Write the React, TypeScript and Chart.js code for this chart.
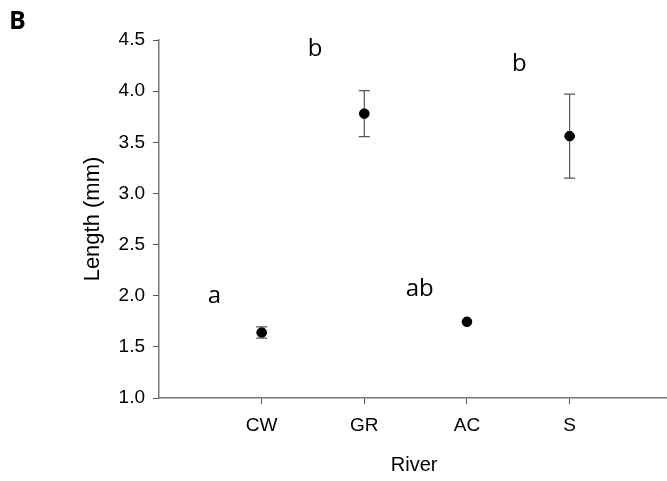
import React, { useEffect, useRef } from "react";
import { Chart, registerables } from "chart.js";

Chart.register(...registerables);

const categories = ["CW", "GR", "AC", "S"];
const means = [1.64, 3.78, 1.745, 3.56];
const errors = [0.055, 0.225, 0.0, 0.41];
const groupLetters = ["a", "b", "ab", "b"];
const letterX = [0.54, 1.52, 2.54, 3.51];
const letterY = [2.0, 4.41, 2.06, 4.26];
const yTicks = [1.0, 1.5, 2.0, 2.5, 3.0, 3.5, 4.0, 4.5];

const FONT = '"Liberation Sans", Arial, Helvetica, sans-serif';

const errorBarPlugin = {
  id: "errorBars",
  afterDatasetsDraw(chart: any) {
    const { ctx, scales } = chart;
    const xs = scales.x;
    const ys = scales.y;
    ctx.save();
    ctx.strokeStyle = "#555555";
    ctx.lineWidth = 1.2;
    means.forEach((m, i) => {
      const e = errors[i];
      if (e <= 0) return;
      const px = xs.getPixelForValue(i + 1);
      const top = ys.getPixelForValue(m + e);
      const bot = ys.getPixelForValue(m - e);
      ctx.beginPath();
      ctx.moveTo(px, top);
      ctx.lineTo(px, bot);
      ctx.moveTo(px - 5.5, top);
      ctx.lineTo(px + 5.5, top);
      ctx.moveTo(px - 5.5, bot);
      ctx.lineTo(px + 5.5, bot);
      ctx.stroke();
    });
    ctx.fillStyle = "#000";
    means.forEach((m, i) => {
      ctx.beginPath();
      ctx.arc(xs.getPixelForValue(i + 1), ys.getPixelForValue(m), 4.8, 0, Math.PI * 2);
      ctx.fill();
    });
    ctx.fillStyle = "#000";
    ctx.font = '24px "Open Sans", "Noto Sans", sans-serif';
    ctx.textAlign = "center";
    ctx.textBaseline = "middle";
    groupLetters.forEach((t, i) => {
      ctx.fillText(t, xs.getPixelForValue(letterX[i]), ys.getPixelForValue(letterY[i]));
    });
    ctx.font = 'bold 25px "Open Sans", "Noto Sans", sans-serif';
    ctx.textAlign = "left";
    ctx.fillText("B", 9, 22);
    ctx.restore();
  },
};

export default function App() {
  const ref = useRef<HTMLCanvasElement>(null);
  useEffect(() => {
    if (!ref.current) return;
    const chart = new Chart(ref.current, {
      type: "scatter",
      data: {
        datasets: [
          {
            data: means.map((m, i) => ({ x: i + 1, y: m })),
            backgroundColor: "#000",
            borderColor: "#000",
            pointRadius: 4.8,
          },
        ],
      },
      plugins: [errorBarPlugin],
      options: {
        responsive: false,
        animation: false,
        layout: { padding: { top: 40, left: 0, right: 0, bottom: 0 } },
        plugins: { legend: { display: false }, tooltip: { enabled: false } },
        scales: {
          x: {
            type: "linear",
            min: 0,
            max: 4.97,
            afterBuildTicks: (scale: any) => {
              scale.ticks = [1, 2, 3, 4].map((v) => ({ value: v }));
            },
            afterFit: (scale: any) => {
              scale.height = 83;
            },
            ticks: {
              callback: (v: any) => categories[Number(v) - 1] ?? "",
              color: "#000",
              font: { family: FONT, size: 19 },
              padding: 10,
              maxRotation: 0,
            },
            grid: {
              drawOnChartArea: false,
              drawTicks: true,
              tickLength: 6,
              color: "#555",
            },
            border: { color: "#777", width: 1.5 },
            title: {
              display: true,
              text: "River",
              color: "#000",
              font: { family: FONT, size: 20 },
              padding: { top: 7 },
            },
          },
          y: {
            min: 1,
            max: 4.5,
            afterBuildTicks: (scale: any) => {
              scale.ticks = yTicks.map((v) => ({ value: v }));
            },
            afterFit: (scale: any) => {
              scale.width = 159;
            },
            ticks: {
              callback: (v: any) => Number(v).toFixed(1),
              color: "#000",
              font: { family: FONT, size: 19 },
              padding: 8,
            },
            grid: {
              drawOnChartArea: false,
              drawTicks: true,
              tickLength: 6,
              color: "#555",
            },
            border: { color: "#777", width: 1.5 },
            title: {
              display: true,
              text: "Length (mm)",
              color: "#000",
              font: { family: FONT, size: 22 },
              padding: { top: 80, bottom: 0 },
            },
          },
        },
      },
    } as any);
    return () => chart.destroy();
  }, []);
  return (
    <div style={{ position: "absolute", left: 0, top: 0, width: 667, height: 481, overflow: "hidden" }}>
      <canvas
        ref={ref}
        width={675}
        height={481}
        style={{ display: "block", background: "#fff" }}
      />
    </div>
  );
}
